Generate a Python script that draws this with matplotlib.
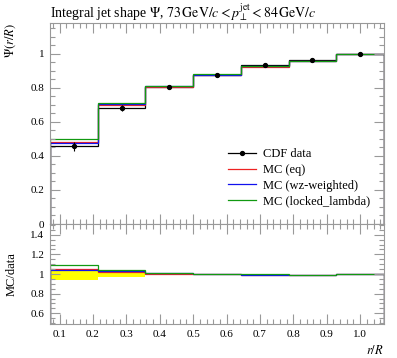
import numpy as np
import matplotlib
matplotlib.use("Agg")
import matplotlib.pyplot as plt
from matplotlib.lines import Line2D
from matplotlib.ticker import MultipleLocator

plt.rcParams['font.family'] = ['Liberation Serif', 'DejaVu Serif']
plt.rcParams['mathtext.fontset'] = 'stix'

# bin edges in r/R (R = 0.7, r in steps of 0.1)
edges = [0.0714, 0.2143, 0.3571, 0.5, 0.6429, 0.7857, 0.9286, 1.0714]
centres = [0.1429, 0.2857, 0.4286, 0.5714, 0.7143, 0.8571, 1.0]

data = [0.459, 0.683, 0.803, 0.877, 0.931, 0.965, 0.997]
data_err_lo = [0.028, 0.019, 0.010, 0.005, 0.004, 0.003, 0.0]
data_err_hi = [0.025, 0.014, 0.008, 0.004, 0.003, 0.002, 0.0]

mc_eq = [0.481, 0.697, 0.807, 0.875, 0.924, 0.954, 0.997]
mc_wz = [0.476, 0.703, 0.809, 0.877, 0.926, 0.955, 0.997]
mc_locked = [0.500, 0.709, 0.813, 0.880, 0.929, 0.955, 0.997]

labels = ['MC (eq)', 'MC (wz-weighted)', 'MC (locked_lambda)']
colors = ['#ee2222', '#1111ee', '#119911']

W, H = 397, 358
fig = plt.figure(figsize=(W / 100, H / 100), dpi=100)
ax = fig.add_axes([50 / W, 1 - 224 / H, 334 / W, 201 / H])
rax = fig.add_axes([50 / W, 1 - 324 / H, 334 / W, 100 / H], sharex=ax)

data = np.array(data)
lo = np.array(data_err_lo)
hi = np.array(data_err_hi)

# main panel
ax.stairs(data, edges, color='black', lw=0.9)
for vals, c in zip([mc_eq, mc_wz, mc_locked], colors):
    ax.stairs(vals, edges, color=c, lw=0.9)
ax.errorbar(centres, data, yerr=[lo, hi], fmt='o', color='black', ms=2.8,
            elinewidth=0.8, capsize=0)

# ratio panel
rel_lo = 1 - lo / data
rel_hi = 1 + hi / data
rax.stairs(rel_hi, edges, baseline=rel_lo, fill=True, color='#ffff00', lw=0)
for vals, c in zip([mc_eq, mc_wz, mc_locked], colors):
    rax.stairs(np.array(vals) / data, edges, color=c, lw=0.9)

ax.set_xlim(edges[0], edges[-1])
ax.set_ylim(0, 1.18)
rax.set_ylim(0.49, 1.51)

for a in (ax, rax):
    a.xaxis.set_major_locator(MultipleLocator(0.1))
    a.xaxis.set_minor_locator(MultipleLocator(0.02))
    a.yaxis.set_major_locator(MultipleLocator(0.2))
    a.yaxis.set_minor_locator(MultipleLocator(0.05))
    a.tick_params(which='both', direction='in', top=True, right=True,
                  color='0.6', labelsize=8, width=0.8)
    a.tick_params(which='major', length=7, pad=4)
    a.tick_params(which='minor', length=3.5)
    for s in a.spines.values():
        s.set_color('0.6')
        s.set_linewidth(0.8)

ax.tick_params(labelbottom=False)
ax.set_yticks([0, 0.2, 0.4, 0.6, 0.8, 1.0])
ax.set_yticklabels(['0', '0.2', '0.4', '0.6', '0.8', '1'])
rax.set_yticks([0.6, 0.8, 1.0, 1.2, 1.4])
rax.set_yticklabels(['0.6', '0.8', '1', '1.2', '1.4'])
rax.set_xticks([0.1, 0.2, 0.3, 0.4, 0.5, 0.6, 0.7, 0.8, 0.9, 1.0])
rax.set_xticklabels(['0.1', '0.2', '0.3', '0.4', '0.5', '0.6', '0.7', '0.8', '0.9', '1.0'])

ax.set_ylabel(r'$\Psi(r/R)$', fontsize=9, loc='top')
ax.yaxis.set_label_coords(-32 / 334, 1.0)
rax.set_ylabel('MC/data', fontsize=9)
rax.yaxis.set_label_coords(-32 / 334, 0.5)
rax.set_xlabel(r'$r/R$', fontsize=9, loc='right')
rax.xaxis.set_label_coords(1.0, -20 / 100)

fig.text(50 / W, 1 - 12 / H,
         r'Integral jet shape $\Psi$, $73\,\mathrm{GeV}/c < p_\perp^{\mathrm{jet}} < 84\,\mathrm{GeV}/c$',
         fontsize=10, ha='left', va='center')

handles = [Line2D([], [], color='black', marker='o', ms=2.8, lw=0.9)]
handles += [Line2D([], [], color=c, lw=0.9) for c in colors]
ax.legend(handles, ['CDF data'] + labels, loc='upper left',
          bbox_to_anchor=(222 / W, 1 - 142 / H), bbox_transform=fig.transFigure,
          frameon=False, fontsize=9, handlelength=2.2, handletextpad=0.6,
          labelspacing=0.3, borderpad=0)

fig.savefig('out.png', dpi=100)
